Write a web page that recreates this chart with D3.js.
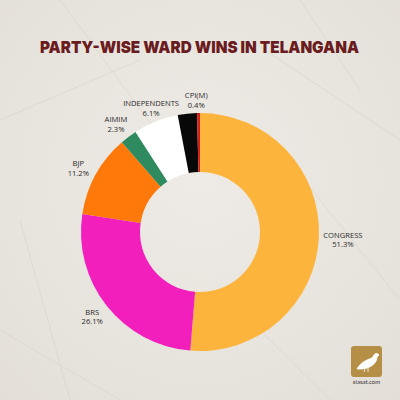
<!DOCTYPE html>
<html><head><meta charset="utf-8">
<script src="https://cdn.jsdelivr.net/npm/d3@7/dist/d3.min.js"></script>
<style>html,body{margin:0;padding:0;background:#e8e5df;}svg{display:block;}</style>
</head><body>
<script>
// Data
const parties = ["CONGRESS","BRS","BJP","AIMIM","INDEPENDENTS","OTHERS","CPI(M)"];
const shares  = [51.3, 26.1, 11.2, 2.3, 6.1, 2.6, 0.4];
const showLabel = [true, true, true, true, true, false, true];
const colors  = ["#fdb43c","#f21fbd","#ff780a","#2f8a5f","#ffffff","#080808","#d2201e"];
const title = "PARTY-WISE WARD WINS IN TELANGANA";

const W = 400, H = 400;
const cx = 200, cy = 232, R = 119, r0 = 60;

const svg = d3.select("body").append("svg").attr("width", W).attr("height", H);
const defs = svg.append("defs");
const g1 = defs.append("radialGradient").attr("id","bg").attr("cx","50%").attr("cy","45%").attr("r","75%");
g1.append("stop").attr("offset","0%").attr("stop-color","#eeebe6");
g1.append("stop").attr("offset","100%").attr("stop-color","#e3dfd8");
svg.append("rect").attr("width",W).attr("height",H).attr("fill","url(#bg)");

// subtle crumple lines
const crease = [[0,120,140,60],[60,0,170,150],[250,40,400,140],[280,150,400,300],[0,330,120,400],[230,300,330,400],[20,220,70,400],[300,0,360,90]];
svg.append("g").selectAll("line").data(crease).join("line")
  .attr("x1",d=>d[0]).attr("y1",d=>d[1]).attr("x2",d=>d[2]).attr("y2",d=>d[3])
  .attr("stroke","#d6d2ca").attr("stroke-width",1).attr("opacity",0.5);

svg.append("text").attr("x", 199.5).attr("y", 53).attr("text-anchor","middle")
  .attr("font-family","Inter, 'Open Sans', sans-serif").attr("font-weight",900)
  .attr("font-size",16.5).attr("fill","#6a1c1f")
  .attr("textLength",319).attr("lengthAdjust","spacingAndGlyphs").text(title);

const data = parties.map((p,i)=>({party:p, value:shares[i], color:colors[i], show:showLabel[i]}));
const pie = d3.pie().value(d=>d.value).sort(null);
const arcs = pie(data);
const arc = d3.arc().innerRadius(r0).outerRadius(R);

const chart = svg.append("g").attr("transform",`translate(${cx},${cy})`);
chart.selectAll("path").data(arcs).join("path").attr("d",arc).attr("fill",d=>d.data.color);

// label positions: arc centroid at label radius, plus per-label nudges
const labelArc = d3.arc().innerRadius(140).outerRadius(140);
const nudge = {"CONGRESS":[3,0],"BRS":[2,-4],"BJP":[1,1.5],"AIMIM":[0,2],"INDEPENDENTS":[3,4],"CPI(M)":[-2,6]};
const lab = chart.append("g").attr("font-family","'Open Sans', sans-serif").attr("font-size",7.6).attr("fill","#2b2b2b").attr("text-anchor","middle");
arcs.filter(d=>d.data.show).forEach(d=>{
  const c = labelArc.centroid(d);
  const n = nudge[d.data.party] || [0,0];
  const t = lab.append("text").attr("x",c[0]+n[0]).attr("y",c[1]+n[1]);
  t.append("tspan").attr("x",c[0]+n[0]).attr("dy","0").text(d.data.party);
  t.append("tspan").attr("x",c[0]+n[0]).attr("dy","9.5").text(d.data.value.toFixed(1)+"%");
});

// logo
const logo = svg.append("g");
logo.append("rect").attr("x",351).attr("y",346).attr("width",31).attr("height",31).attr("rx",3).attr("fill","#b48f45");
logo.append("path").attr("d","M357 369 C360 363 366 360 372 358 L374 355 C375 353 378 353 379 355 L377 357 C377 362 373 366 367 368 L362 369 Z M365 369 L364 372 M368 368 L368 372")
  .attr("fill","#ffffff").attr("stroke","#ffffff").attr("stroke-width",0.8);
logo.append("text").attr("x",366.5).attr("y",384).attr("text-anchor","middle")
  .attr("font-family","Lato, sans-serif").attr("font-size",6).attr("fill","#333").text("siasat.com");
</script>
</body></html>
